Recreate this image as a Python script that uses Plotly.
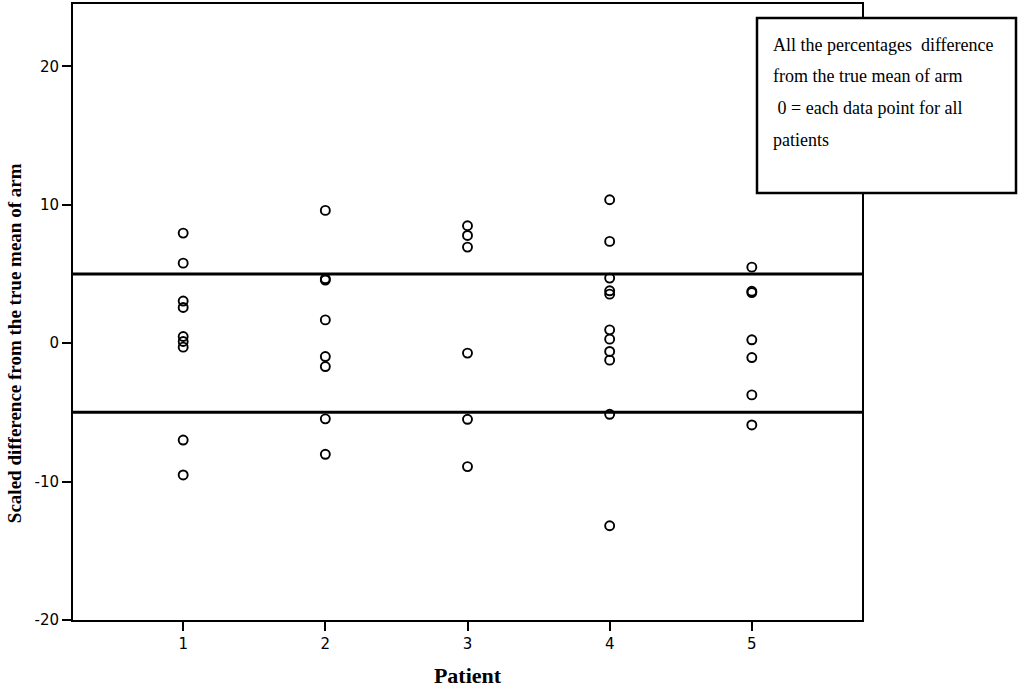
import plotly.graph_objects as go

# Data
patients = [1, 2, 3, 4, 5]
tick_vals_y = [-20, -10, 0, 10, 20]
tick_text_y = ["-20", "-10", "0", "10", "20"]
p1 = [7.95, 5.78, 3.04, 2.58, 0.48, 0.12, -0.29, -7.0, -9.52]
p2 = [9.59, 4.65, 4.55, 1.68, -0.97, -1.69, -5.47, -8.03]
p3 = [8.48, 7.78, 6.94, -0.72, -5.5, -8.92]
p4 = [10.36, 7.35, 4.7, 3.78, 3.54, 0.96, 0.29, -0.6, -1.23, -5.14, -13.19]
p5 = [5.49, 3.75, 3.65, 0.24, -1.04, -3.74, -5.91]
series = [p1, p2, p3, p4, p5]
ref_lines = [5, -5]
y_title = "Scaled difference from the true mean of arm"
x_title = "Patient"
box_lines = ["All the percentages  difference",
             "from the true mean of arm",
             "\u00a00 = each data point for all",
             "patients"]

xs, ys = [], []
for p, vals in zip(patients, series):
    xs += [p] * len(vals)
    ys += vals

fig = go.Figure()
fig.add_trace(go.Scatter(
    x=xs, y=ys, mode="markers",
    marker=dict(symbol="circle-open", size=9, color="black",
                line=dict(width=1.9, color="black")),
    showlegend=False, hoverinfo="skip"))

for v in ref_lines:
    fig.add_shape(type="line", xref="paper", yref="y", x0=0, x1=1, y0=v, y1=v,
                  line=dict(color="black", width=3))

serif = "Liberation Serif, Times New Roman, serif"
sans = "DejaVu Sans, Verdana, sans-serif"

fig.update_layout(
    width=1024, height=691,
    margin=dict(l=73, r=162, t=4, b=71, autoexpand=False),
    paper_bgcolor="white", plot_bgcolor="white",
    xaxis=dict(range=[0.225, 5.775], tickvals=patients, ticktext=[str(p) for p in patients],
               showgrid=False, zeroline=False, showline=True, mirror=True,
               linecolor="black", linewidth=2, ticks="outside", ticklen=9,
               tickwidth=2, tickcolor="black", automargin=False,
               tickfont=dict(family=sans, size=15, color="black"),
               title=dict(text="<b>" + x_title + "</b>",
                          font=dict(family=serif, size=22, color="black"), standoff=16)),
    yaxis=dict(range=[-20, 24.5], tickvals=tick_vals_y, ticktext=tick_text_y,
               showgrid=False, zeroline=False, showline=True, mirror=True,
               linecolor="black", linewidth=2, ticks="outside", ticklen=9,
               tickwidth=2, tickcolor="black", automargin=False,
               tickfont=dict(family=sans, size=15, color="black")),
)

# Pixel -> paper conversion helpers
L, R, T, B = 73, 862, 4, 620
def px(xp):
    return (xp - L) / (R - L)
def py(yp):
    return (B - yp) / (B - T)

# y-axis title (centered near y=0 as in the reference)
fig.add_annotation(text="<b>" + y_title + "</b>", xref="paper", yref="y",
                   x=px(14), y=0, textangle=-90, showarrow=False,
                   xanchor="center", yanchor="middle",
                   font=dict(family=serif, size=19, color="black"))

fig.add_shape(type="rect", xref="paper", yref="paper",
              x0=px(757), x1=px(1016), y0=py(193), y1=py(18),
              line=dict(color="black", width=2.5), fillcolor="white", layer="above")

line_y = [45, 76, 108, 140]
for txt, yy in zip(box_lines, line_y):
    fig.add_annotation(text=txt, xref="paper", yref="paper", x=px(771), y=py(yy),
                       xanchor="left", yanchor="middle", showarrow=False,
                       font=dict(family=serif, size=18, color="black"))

fig.write_html("out.html", config={"displayModeBar": False},
               post_script="document.body.style.margin='0';")
